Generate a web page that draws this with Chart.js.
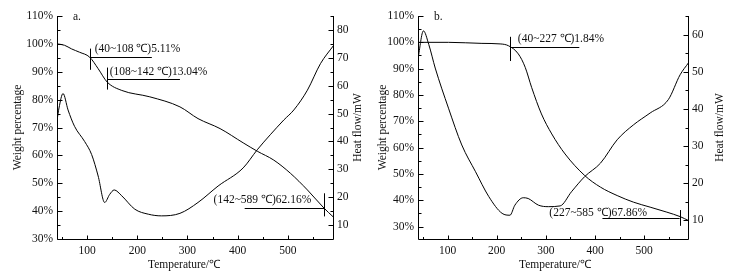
<!DOCTYPE html>
<html>
<head>
<meta charset="utf-8">
<script src="https://cdn.jsdelivr.net/npm/chart.js@4"></script>
<style>
  html, body { margin: 0; padding: 0; background: #fff; }
  #wrap { position: relative; width: 736px; height: 277px; background: #fff; }
  canvas { position: absolute; top: 0; }
</style>
</head>
<body>
<div id="wrap">
  <canvas id="ca" width="368" height="277" style="left:0px"></canvas>
  <canvas id="cb" width="368" height="277" style="left:368px"></canvas>
</div>
<script>
// ---------------- DATA ----------------
// Panel a: TG (weight %) and DSC (heat flow, mW) vs temperature (°C)
const aTempTG   = [40, 55, 69, 85, 105, 122, 140, 169, 225, 285, 321, 365, 411, 439, 472, 505, 539, 572, 590];
const aWeight   = [100, 99.5, 98.2, 97, 95.25, 91.1, 86.3, 83.3, 81, 77.4, 73.2, 69.6, 64.5, 61.5, 58.3, 53.6, 47.6, 41.1, 38.0];
const aTempDSC  = [40, 44, 52, 62, 75, 95, 109, 122, 135, 145, 154, 169, 195, 222, 248, 285, 321, 361, 411, 439, 465, 492, 512, 539, 565, 591];
const aHeat     = [47.5, 52, 57.2, 51.3, 45.4, 40, 35.3, 27.6, 18.1, 21, 22.6, 20.5, 15.7, 13.9, 13.3, 14.2, 18.1, 24, 30.5, 37, 42.4, 47.7, 51.3, 58.4, 67.9, 74.4];

// Panel b
const bTempTG   = [40, 102, 170, 207, 224, 244, 258, 271, 291, 312, 339, 379, 411, 445, 478, 512, 546, 573, 590];
const bWeight   = [100, 100, 99.6, 99.4, 98.7, 95.6, 90.5, 82.9, 72.8, 65.2, 57.6, 49.4, 45, 41.8, 39.3, 37.4, 35.5, 33.8, 32.3];
const bTempDSC  = [40, 51, 62, 75, 102, 129, 157, 184, 211, 227, 237, 254, 264, 285, 305, 329, 352, 379, 411, 445, 478, 512, 549, 573, 590];
const bHeat     = [53.5, 61, 57.3, 51, 40.2, 30.3, 23.1, 16.4, 11.9, 11.4, 14.1, 16.1, 15.9, 14.1, 13.7, 13.9, 17.7, 21.8, 25.4, 31.7, 35.7, 38.9, 42.5, 49.2, 52.4];

// Tick labels
const tempTicks     = [100, 200, 300, 400, 500];
const tempMinor     = [50, 150, 250, 350, 450, 550];
const weightTicks   = [30, 40, 50, 60, 70, 80, 90, 100, 110];
const weightMinor   = [35, 45, 55, 65, 75, 85, 95, 105];
const aHeatTicks    = [10, 20, 30, 40, 50, 60, 70, 80];
const aHeatMinor    = [15, 25, 35, 45, 55, 65, 75, 85];
const bHeatTicks    = [10, 20, 30, 40, 50, 60];
const bHeatMinor    = [15, 25, 35, 45, 55, 65];

const xTitle = 'Temperature/℃';
const yLTitle = 'Weight percentage';
const yRTitle = 'Heat flow/mW';

// Annotation texts (mass-loss steps)
const aNotes = [
  {text: '(40~108 ℃)5.11%',   tx: 115, ty: 98.1, x1: 106, x2: 229, ly: 95.25, tickX: 106, t1: 98.3, t2: 90.7},
  {text: '(108~142 ℃)13.04%', tx: 145, ty: 89.8, x1: 140, x2: 285, ly: 87.4,  tickX: 140, t1: 91.5, t2: 83.6},
  {text: '(142~589 ℃)62.16%', tx: 352, ty: 43.9, x1: 414, x2: 573, ly: 41.2,  tickX: 573, t1: 46.4, t2: 38.1}
];
const bNotes = [
  {text: '(40~227 ℃)1.84%',   tx: 243, ty: 101.2, x1: 228, x2: 368, ly: 98.3, tickX: 228, t1: 102.1, t2: 92.9},
  {text: '(227~585 ℃)67.86%', tx: 307, ty: 35.3,  x1: 415, x2: 572, ly: 33.2, tickX: 572, t1: 36.3,  t2: 30.3}
];

// ---------------- CHART ----------------
const FONT = "'Liberation Serif', 'Times New Roman', serif";
Chart.defaults.font.family = FONT;
Chart.defaults.font.size = 11;
Chart.defaults.color = '#111';

function pts(xs, ys) { return xs.map((x, i) => ({x: x, y: ys[i]})); }
function seg(ctx, x1, y1, x2, y2) { ctx.beginPath(); ctx.moveTo(x1, y1); ctx.lineTo(x2, y2); ctx.stroke(); }
const r = v => Math.round(v) + 0.5;

const decor = {
  id: 'decor',
  afterDraw(chart, args, o) {
    const {ctx, chartArea: ca, scales} = chart;
    const sx = scales.x, yl = scales.yL, yr = scales.yR;
    ctx.save();
    ctx.strokeStyle = '#000';
    ctx.lineWidth = 1;
    const L = r(ca.left), R = r(ca.right), B = r(ca.bottom), T = Math.round(ca.top);
    seg(ctx, L, T, L, B);
    seg(ctx, R, T, R, B);
    seg(ctx, L, B, R, B);
    // ticks (inward)
    o.xMajor.forEach(v => { const p = r(sx.getPixelForValue(v)); seg(ctx, p, B, p, B - 4); });
    o.xMinor.forEach(v => { const p = r(sx.getPixelForValue(v)); seg(ctx, p, B, p, B - 2.5); });
    o.lMajor.forEach(v => { const p = r(yl.getPixelForValue(v)); seg(ctx, L, p, L + 5, p); });
    o.lMinor.forEach(v => { const p = r(yl.getPixelForValue(v)); seg(ctx, L, p, L + 3, p); });
    o.rMajor.forEach(v => { const p = r(yr.getPixelForValue(v)); seg(ctx, R, p, R - 5, p); });
    o.rMinor.forEach(v => { const p = r(yr.getPixelForValue(v)); seg(ctx, R, p, R - 3, p); });
    // annotations
    ctx.fillStyle = '#111';
    ctx.font = '11.5px ' + FONT;
    ctx.textBaseline = 'middle';
    ctx.textAlign = 'left';
    o.notes.forEach(n => {
      ctx.fillText(n.text, sx.getPixelForValue(n.tx), yl.getPixelForValue(n.ty));
      const ly = r(yl.getPixelForValue(n.ly));
      seg(ctx, sx.getPixelForValue(n.x1), ly, sx.getPixelForValue(n.x2), ly);
      const tx = r(sx.getPixelForValue(n.tickX));
      seg(ctx, tx, yl.getPixelForValue(n.t1), tx, yl.getPixelForValue(n.t2));
    });
    // panel tag
    ctx.fillText(o.tag, o.tagX, 17);
    // axis titles
    ctx.textAlign = 'center';
    ctx.fillText(xTitle, o.xTitleX, 265);
    const midY = (ca.top + ca.bottom) / 2;
    ctx.save(); ctx.translate(o.lTitleX, midY); ctx.rotate(-Math.PI / 2); ctx.fillText(yLTitle, 0, 0); ctx.restore();
    ctx.save(); ctx.translate(o.rTitleX, midY); ctx.rotate(-Math.PI / 2); ctx.fillText(yRTitle, 0, 0); ctx.restore();
    ctx.restore();
  }
};

function makePanel(id, p) {
  const setTicks = list => (s => { s.ticks = list.map(v => ({value: v})); });
  const fixW = w => (s => { s.width = w; });
  return new Chart(document.getElementById(id), {
    type: 'line',
    data: {
      datasets: [
        {data: pts(p.tTG, p.w), yAxisID: 'yL', borderColor: '#000', borderWidth: 1, pointRadius: 0, cubicInterpolationMode: 'monotone', fill: false},
        {data: pts(p.tDSC, p.h), yAxisID: 'yR', borderColor: '#000', borderWidth: 1, pointRadius: 0, cubicInterpolationMode: 'monotone', fill: false}
      ]
    },
    options: {
      responsive: false,
      animation: false,
      events: [],
      layout: {padding: {top: 16, left: 0, right: 0, bottom: 0}},
      plugins: {
        legend: {display: false},
        tooltip: {enabled: false},
        decor: p.decor
      },
      scales: {
        x: {
          type: 'linear', position: 'bottom', min: p.xMin, max: p.xMax,
          afterBuildTicks: setTicks(tempTicks),
          afterFit: s => { s.height = 38; },
          grid: {display: false, drawTicks: false, tickLength: 0},
          border: {display: false},
          ticks: {padding: 5, maxRotation: 0, autoSkip: false, font: {size: 11.5}}
        },
        yL: {
          type: 'linear', position: 'left', min: p.yLMin, max: 110,
          afterBuildTicks: setTicks(weightTicks),
          afterFit: fixW(p.lW),
          grid: {display: false, drawTicks: false, tickLength: 0},
          border: {display: false},
          ticks: {padding: 4, autoSkip: false, callback: v => v + '%', font: {size: 11.5}}
        },
        yR: {
          type: 'linear', position: 'right', min: 5, max: p.yRMax,
          afterBuildTicks: setTicks(p.rTicks),
          afterFit: fixW(p.rW),
          grid: {display: false, drawTicks: false, tickLength: 0},
          border: {display: false},
          ticks: {padding: 4, autoSkip: false, font: {size: 11.5}}
        }
      }
    },
    plugins: [decor]
  });
}

makePanel('ca', {
  tTG: aTempTG, w: aWeight, tDSC: aTempDSC, h: aHeat,
  xMin: 40, xMax: 590, yLMin: 30, yRMax: 85, rTicks: aHeatTicks, lW: 57, rW: 35,
  decor: {xMajor: tempTicks, xMinor: tempMinor, lMajor: weightTicks, lMinor: weightMinor,
          rMajor: aHeatTicks, rMinor: aHeatMinor, notes: aNotes, tag: 'a.', tagX: 73,
          xTitleX: 184, lTitleX: 18, rTitleX: 358}
});
makePanel('cb', {
  tTG: bTempTG, w: bWeight, tDSC: bTempDSC, h: bHeat,
  xMin: 40, xMax: 589, yLMin: 25.3, yRMax: 65, rTicks: bHeatTicks, lW: 50, rW: 48,
  decor: {xMajor: tempTicks, xMinor: tempMinor, lMajor: weightTicks, lMinor: weightMinor,
          rMajor: bHeatTicks, rMinor: bHeatMinor, notes: bNotes, tag: 'b.', tagX: 66,
          xTitleX: 187, lTitleX: 15, rTitleX: 352}
});
</script>
</body>
</html>
